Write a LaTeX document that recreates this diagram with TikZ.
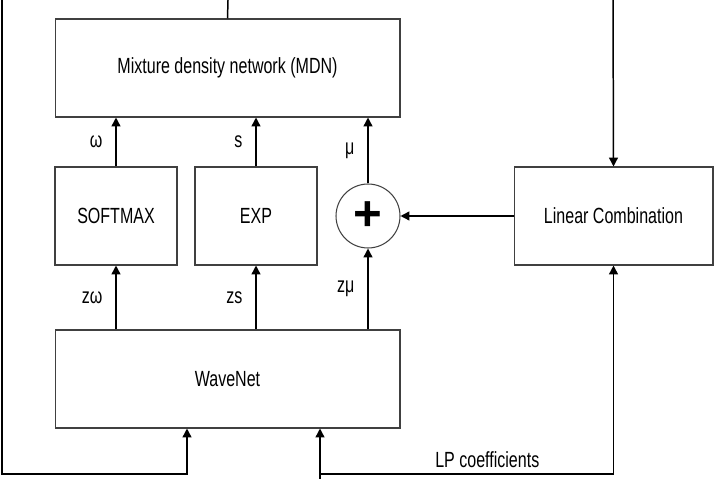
\documentclass[tikz,border=0pt]{standalone}
\usepackage{fontspec}
\setmainfont{Liberation Sans}[FakeStretch=0.73]
\newfontfamily\plainsans{Liberation Sans}
\usetikzlibrary{arrows.meta}

\begin{document}
\begin{tikzpicture}[x=0.02cm,y=-0.02cm,
    blk/.style={draw=black!75,line width=0.6pt,minimum height=1.96cm,inner sep=0pt,
                font=\fontsize{12.5}{14}\selectfont},
    sig/.style={line width=0.85pt,-{Triangle[length=5pt,width=5pt]}},
    wire/.style={line width=0.85pt},
    lbl/.style={font=\fontsize{12.5}{14}\selectfont}]
    \useasboundingbox (0,0) rectangle (719,479);
    % blocks
    \node[blk,minimum width=6.9cm] (mdn) at (227.5,68) {Mixture density network (MDN)};
    \node[blk,minimum width=2.44cm] (soft) at (116,216) {SOFTMAX};
    \node[blk,minimum width=2.44cm] (exp) at (256,216) {EXP};
    \node[draw=black!75,line width=0.6pt,circle,minimum size=1.28cm,inner sep=0pt,
          font=\plainsans\bfseries\fontsize{28}{28}\selectfont] (sum) at (368,216) {+};
    \node[blk,minimum width=3.98cm] (lin) at (613.5,216) {Linear Combination};
    \node[blk,minimum width=6.9cm] (wave) at (227.5,379) {WaveNet};
    % free ends (cut at the border)
    \coordinate (mdnTop) at (228,0);
    \coordinate (fbTop) at (2,0);
    \coordinate (fbCorner) at (2,474);
    \coordinate (fbIn) at (187,474);
    \coordinate (inBot) at (320,479);
    \coordinate (split) at (320,474);
    \coordinate (linTop) at (613,0);
    % WaveNet -> nonlinearities
    \draw[sig] (soft.south |- wave.north) -- node[left=4pt,lbl] {zω} (soft.south);
    \draw[sig] (exp.south |- wave.north) -- node[left=4pt,lbl] {zs} (exp.south);
    \draw[sig] (sum.south |- wave.north) -- node[left=4pt,lbl] {zμ} (sum.south);
    % nonlinearities -> MDN
    \draw[sig] (soft.north) -- node[left=4pt,lbl] {ω} (soft.north |- mdn.south);
    \draw[sig] (exp.north) -- node[left=4pt,lbl] {s} (exp.north |- mdn.south);
    \draw[sig] (sum.north) -- node[left=4pt,lbl] {μ} (sum.north |- mdn.south);
    \draw[sig] (lin.west) -- (sum.east);
    % feedback and inputs
    \draw[wire] (mdn.north) -- (mdnTop);
    \draw[sig] (fbTop) -- (fbCorner) -- (fbIn) -- (fbIn |- wave.south);
    \draw[sig] (inBot) -- (inBot |- wave.south);
    \draw[sig] (split) -- node[pos=0.57,above,lbl] {LP coefficients} (split -| lin) -- (lin.south);
    \draw[sig] (linTop) -- (lin.north);
\end{tikzpicture}
\end{document}
